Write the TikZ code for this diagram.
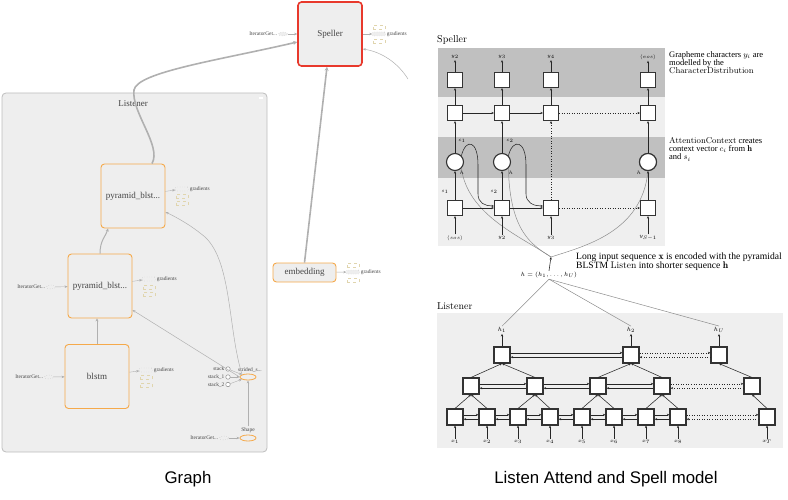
\documentclass[tikz,border=0pt]{standalone}
\usepackage{amsmath}
\usepackage{fontspec}
\newfontfamily\graphfont{Liberation Serif}
\newfontfamily\annotfont{Liberation Serif}
\newfontfamily\capfont{Liberation Sans}
\usetikzlibrary{arrows.meta,positioning,shapes.geometric,calc}

\definecolor{tbfill}{HTML}{EEEEEE}
\definecolor{tbborder}{HTML}{BDBDBD}
\definecolor{tborange}{HTML}{F5A94A}
\definecolor{tbred}{HTML}{E8392C}
\definecolor{tbedge}{HTML}{B0B0B0}
\definecolor{tbtext}{HTML}{444444}
\definecolor{tbsum}{HTML}{E0D5AE}
\definecolor{banddark}{HTML}{C0C0C0}
\definecolor{bandlight}{HTML}{EFEFEF}
\definecolor{curvegray}{HTML}{8C8C8C}

\begin{document}
\begin{tikzpicture}[x=1pt, y=-1pt,
  metanode/.style={draw=tborange, line width=0.9pt, rounded corners=3.5pt,
                   fill=tbfill, minimum width=64pt, minimum height=64pt,
                   font=\graphfont\fontsize{9}{10}\selectfont, text=tbtext},
  opnode/.style={ellipse, draw=tborange, line width=0.8pt, fill=tbfill,
                 minimum width=16pt, minimum height=6pt, inner sep=0pt},
  itnode/.style={ellipse, draw=tbedge, dotted, fill=tbfill,
                 minimum width=9pt, minimum height=4pt, inner sep=0pt},
  constnode/.style={circle, draw=tbtext!70, fill=white, line width=0.4pt,
                    minimum size=4.5pt, inner sep=0pt},
  gradbox/.style={draw=tbedge, dotted, fill=tbfill, rounded corners=1pt,
                  minimum width=13pt, minimum height=4pt, inner sep=0pt},
  sumbox/.style={draw=tbsum, dashed, line width=0.4pt,
                 minimum width=12pt, minimum height=4pt, inner sep=0pt},
  tinylbl/.style={font=\graphfont\fontsize{5.4}{6}\selectfont, text=tbtext,
                  inner sep=1pt},
  tbthick/.style={draw=tbedge, line width=1.6pt, -{Stealth[length=4pt,width=4pt]}},
  tbmid/.style={draw=tbedge, line width=1pt, -{Stealth[length=3pt,width=3pt]}},
  tbthin/.style={draw=tbedge, line width=0.5pt, -{Stealth[length=3pt,width=2.5pt]}},
  cell/.style={draw=black!80, fill=white, line width=1.1pt, minimum size=15pt,
               inner sep=0pt},
  lcell/.style={cell, minimum size=16pt},
  attn/.style={circle, draw=black!80, fill=white, line width=1.1pt,
               minimum size=17pt, inner sep=0pt},
  arr/.style={-{Stealth[length=2.6pt,width=2.2pt]}, line width=0.55pt, draw=black!85},
  darr/.style={arr, dotted},
  gline/.style={draw=curvegray, line width=0.5pt},
  mlbl/.style={font=\fontsize{5}{6}\selectfont, inner sep=1pt},
  xlbl/.style={font=\fontsize{5.5}{6}\selectfont, inner sep=1pt},
  paneltitle/.style={font=\fontsize{10}{12}\selectfont, anchor=west, inner sep=0pt},
  annot/.style={font=\annotfont\fontsize{8.5}{8.3}\selectfont, align=left,
                anchor=north west, inner sep=0pt},
  capstyle/.style={font=\capfont\fontsize{16.8}{20}\selectfont},
]
\useasboundingbox (0,0) rectangle (788,500);

% ---------------- TensorBoard graph ----------------
\node[draw=tbborder, fill=tbfill, line width=0.8pt, rounded corners=4pt,
      minimum width=265pt, minimum height=359pt] (listenerbox) at (134.5,272.5) {};
\node[font=\graphfont\fontsize{9}{10}\selectfont, text=tbtext] (listenertitle)
  at (133,104) {Listener};
\node[fill=white, minimum width=4pt, minimum height=1.2pt, inner sep=0pt]
  (collapse) at (261,98) {};

\node[metanode, draw=tbred, line width=1.6pt] (speller) at (330,34) {Speller};
\node[metanode] (pyrb) at (133,196) {pyramid\_blst...};
\node[metanode] (pyra) at (100,286) {pyramid\_blst...};
\node[metanode] (blstm) at (97,376.5) {blstm};
\node[metanode, minimum width=63pt, minimum height=19pt] (embedding)
  at (304.5,272.5) {embedding};

% gradients and summaries
\foreach \n/\x/\y/\ya/\yb in {speller/379/34/27/41, pyrb/182/189/196/203,
    pyra/149/279/287/294, blstm/146/370/377/385, embedding/353/272/265/280}{
  \node[gradbox] (\n-grad) at (\x,\y) {};
  \node[tinylbl, anchor=west] at (\n-grad.east) {gradients};
  \node[sumbox] at (\x,\ya) {};
  \node[sumbox] at (\x,\yb) {};
  \draw[tbthin, line width=0.4pt] (\n) -- (\n-grad);
}

% iterator inputs
\foreach \n/\x/\y in {speller/283/34, pyra/51/287, blstm/49/377}{
  \node[itnode] (\n-it) at (\x,\y) {};
  \node[tinylbl, anchor=east] at (\n-it.west) {IteratorGet...};
  \draw[tbthin, line width=0.4pt] (\n-it) -- (\n);
}

% strided slice and shape
\node[opnode] (strided) at (248,377) {};
\node[tinylbl] (stridedlbl) at (250,369.5) {strided\_s...};
\node[constnode] (stk0) at (228,369) {};
\node[constnode] (stk1) at (228,377) {};
\node[constnode] (stk2) at (228,384.5) {};
\node[tinylbl, anchor=east] at (stk0.west) {stack};
\node[tinylbl, anchor=east] at (stk1.west) {stack\_1};
\node[tinylbl, anchor=east] at (stk2.west) {stack\_2};
\foreach \s in {stk0,stk1,stk2}
  \draw[tbthin, line width=0.4pt] (\s) -- (strided);

\node[opnode] (shapeop) at (248,438) {};
\node[tinylbl, font=\graphfont\fontsize{5.5}{6}\selectfont] (shapelbl) at (248,430) {Shape};
\node[itnode] (shape-it) at (224,438) {};
\node[tinylbl, anchor=east] at (shape-it.west) {IteratorGet...};
\draw[tbthin, line width=0.4pt] (shape-it) -- (shapeop);
\draw[tbthin] (shapelbl.north) -- (strided.south);

% graph edges
\draw[tbthick] ([xshift=19pt]pyrb.north) .. controls (162,146) and (131,112) ..
  (134,90) .. controls (137,72) and (220,60) .. ([yshift=-8pt]speller.west);
\draw[tbthick] (embedding.north) -- ([xshift=-3pt]speller.south);
\coordinate (specin) at (408,79);
\draw[tbthin] (specin) .. controls (398,63) and (382,52) .. ([yshift=-15pt]speller.east);
\draw[tbmid] (pyra.north) .. controls (100,240) and (106,236) .. ([xshift=-25pt]pyrb.south);
\draw[tbmid] (blstm.north) -- (blstm.north |- pyra.south);
\draw[tbthin] (strided.west) -- ([yshift=-24pt]pyra.east);
\draw[tbthin] (strided.north west) .. controls (228,330) and (232,262) .. (205,237)
  .. controls (192,226) and (178,218) .. ([yshift=-16pt]pyrb.east);

% ---------------- Speller ----------------
\node[paneltitle] (spellertitle) at (437,40) {Speller};
\fill[banddark] (438,48) rectangle (665,97);
\fill[bandlight] (438,97) rectangle (665,137);
\fill[banddark] (438,137) rectangle (665,178);
\fill[bandlight] (438,178) rectangle (665,246);

\coordinate (brace) at (551,257);

\foreach \c/\x in {1/455,2/502,3/551,4/648}{
  \node[cell] (so\c) at (\x,80) {};
  \node[cell] (sm\c) at (\x,113) {};
  \node[cell] (sb\c) at (\x,208) {};
}
\foreach \c/\x in {1/455,2/502,4/648}
  \node[attn] (sa\c) at (\x,162) {};

% attention inputs from h
\draw[gline] (sa1.south east) .. controls (468,215) and (520,236) .. (brace);
\draw[gline] (sa2.south east) .. controls (510,232) and (532,245) .. (brace);
\draw[gline] (sa4.south) .. controls (642,232) and (585,246) .. (brace);
\foreach \c in {1,2,3,4}
  \node[cell] at (sb\c) {};
\node[attn] at (sa4) {};

\foreach \c/\x/\t in {1/455/y_2, 2/502/y_3, 3/551/y_4, 4/648/\langle eos\rangle}{
  \node[mlbl] (yo\c) at (\x,57) {$\t$};
  \draw[arr] (so\c.north) -- (yo\c.south);
  \draw[arr] (sm\c.north) -- (so\c.south);
}
\foreach \c/\x/\t in {1/455/\langle sos\rangle, 2/502/y_2, 3/551/y_3, 4/648/y_{S-1}}{
  \node[mlbl] (yi\c) at (\x,238) {$\t$};
  \draw[arr] (yi\c.north) -- (sb\c.south);
}
\foreach \c in {1,2,4}{
  \draw[arr] (sa\c.north) -- (sm\c.south);
  \draw[arr] (sb\c.north) -- (sa\c.south);
}
\draw[darr] (sb3.north) -- (sm3.south);
\draw[arr] (sm1) -- (sm2);
\draw[arr] (sm2) -- (sm3);
\draw[darr] (sm3) -- (sm4);
\draw[arr] (sb1) -- (sb2);
\draw[arr] (sb2) -- (sb3);
\draw[darr] (sb3) -- (sb4);

\draw[arr] (sa1.north east) .. controls (466,138) and (478,140) .. (478,165)
  -- (478,194) .. controls (478,203) and (485,206) .. ([yshift=2pt]sb2.west);
\draw[arr] (sa2.north east) .. controls (513,138) and (526,140) .. (526,165)
  -- (526,194) .. controls (526,203) and (534,206) .. ([yshift=2pt]sb3.west);

\node[mlbl] (c1lbl) at (462,141) {$c_1$};
\node[mlbl] (c2lbl) at (510,141) {$c_2$};
\node[mlbl] (h1att) at (462,173) {$h$};
\node[mlbl] (h2att) at (511,173) {$h$};
\node[mlbl] (h4att) at (639,173) {$h$};
\node[mlbl] (s1lbl) at (445,192) {$s_1$};
\node[mlbl] (s2lbl) at (494,192) {$s_2$};

\node[font=\fontsize{6}{7}\selectfont, inner sep=1pt] (hseq) at (549,275)
  {$h=(h_1,\ldots,h_U)$};
\draw[arr] (hseq.north) -- (brace);

\node[annot] (gnote) at (669,51)
  {Grapheme characters $y_i$ are\\modelled by the\\{\rmfamily CharacterDistribution}};
\node[annot] (anote) at (669,137)
  {{\rmfamily AttentionContext} creates\\context vector $c_i$ from $\mathbf{h}$\\and $s_i$};
\node[annot, font=\annotfont\fontsize{9.6}{8.8}\selectfont] (lnote) at (576,253)
  {Long input sequence $\mathbf{x}$ is encoded with the pyramidal\\BLSTM {\rmfamily Listen} into shorter sequence $\mathbf{h}$};

% ---------------- Listener ----------------
\node[paneltitle] (lstntitle) at (437,306) {Listener};
\fill[bandlight] (437,313) rectangle (783,448);

\foreach \i/\x/\t in {1/455/1,2/487/2,3/518/3,4/550/4,5/582/5,6/614/6,7/646/7,8/678/8,9/767/T}{
  \node[lcell] (lb\i) at (\x,417) {};
  \node[xlbl] (lx\i) at (\x,442) {$x_{\t}$};
  \draw[arr] (lx\i.north) -- (lb\i.south);
}
\foreach \i/\x in {1/471,2/535,3/598,4/662,5/752}
  \node[lcell] (lm\i) at (\x,386) {};
\foreach \i/\x/\t in {1/502/1,2/631/2,3/719/U}{
  \node[lcell] (lt\i) at (\x,355) {};
  \node[xlbl, font=\fontsize{6}{7}\selectfont] (lh\i) at (\x,330) {$h_{\t}$};
  \draw[arr] (lt\i.north) -- (lh\i.south);
  \draw[gline] (hseq.south) -- (lh\i.north);
}

% bidirectional links
\foreach \a/\b/\s in {lb1/lb2/arr, lb2/lb3/arr, lb3/lb4/arr, lb4/lb5/arr,
    lb5/lb6/arr, lb6/lb7/arr, lb7/lb8/arr, lb8/lb9/darr,
    lm1/lm2/arr, lm2/lm3/arr, lm3/lm4/arr, lm4/lm5/darr,
    lt1/lt2/arr, lt2/lt3/darr}{
  \draw[\s] ([yshift=2.2pt]\a.east) -- ([yshift=2.2pt]\b.west);
  \draw[\s] ([yshift=-2.2pt]\b.west) -- ([yshift=-2.2pt]\a.east);
}

% pyramid reduction
\foreach \a/\b in {lb1/lm1, lb2/lm1, lb3/lm2, lb4/lm2, lb5/lm3, lb6/lm3,
    lb7/lm4, lb8/lm4, lb9/lm5, lm1/lt1, lm2/lt1, lm3/lt2, lm4/lt2, lm5/lt3}
  \draw[arr] (\a.north) -- (\b.south);

% captions
\node[capstyle] (graphcap) at (188,479) {Graph};
\node[capstyle] (lascap) at (606,479) {Listen Attend and Spell model};
\end{tikzpicture}
\end{document}
